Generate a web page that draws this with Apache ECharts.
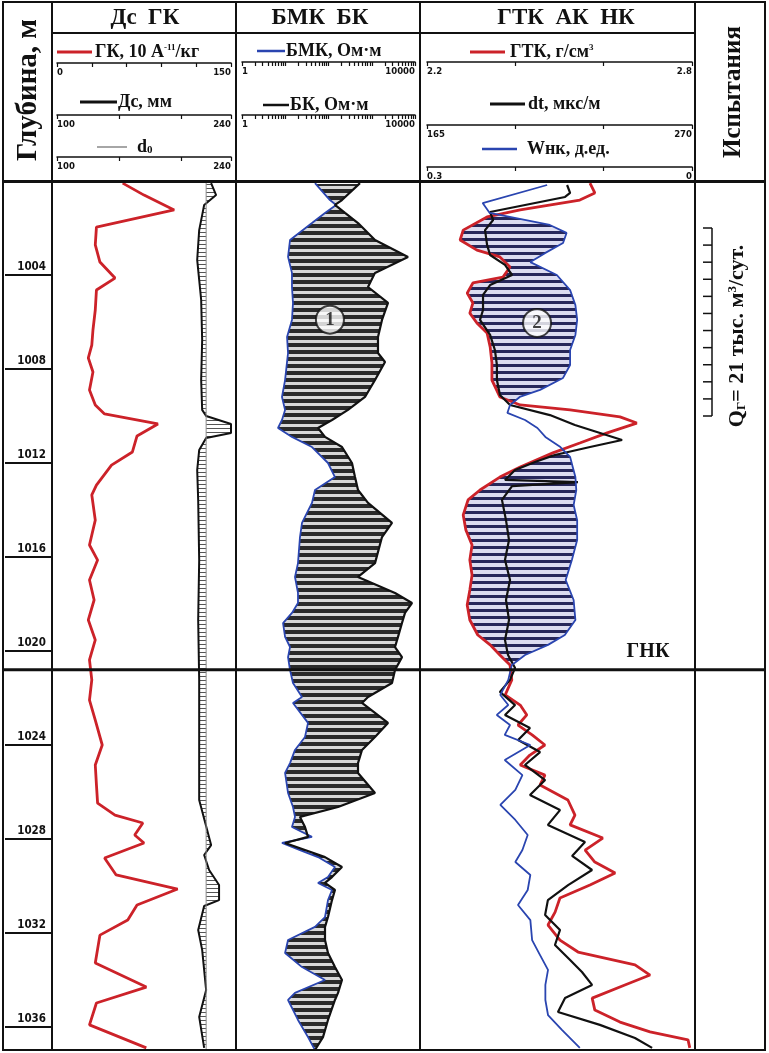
<!DOCTYPE html>
<html><head><meta charset="utf-8">
<script src="https://cdn.jsdelivr.net/npm/echarts@6/dist/echarts.min.js"></script>
<style>html,body{margin:0;padding:0;background:#fff}#c{width:769px;height:1053px}</style>
</head><body><div id="c"></div>
<script>
// ---------------- DATA ----------------
const depthTicks = [1004,1008,1012,1016,1020,1024,1028,1032,1036];
const gnkDepth = 1020.8;
const testTop = 1002.0, testBottom = 1010.0;

// Track 1: ГК (0-150), Дс (100-240), d0
const gkDepth = [1000.09,1000.6,1001.23,1001.96,1002.72,1003.45,1004.13,1004.64,1005.49,1006.34,1006.98,1007.53,1008.13,1008.89,1009.53,1009.91,1010.34,1010.85,1011.53,1012.09,1012.94,1013.36,1014.43,1015.49,1016.13,1016.98,1017.83,1018.68,1019.53,1020.38,1021.23,1022.09,1022.94,1024.0,1024.85,1025.70,1026.47,1026.98,1027.32,1027.83,1028.17,1028.81,1029.53,1030.13,1030.81,1031.45,1032.09,1033.28,1034.30,1034.98,1035.91,1036.89];
const gkValue = [56.6,75,101,34,33,37,50,34,33,31,30,27,31,28,33,41,87,69,65,47,34,30,33,28,35,28,32,27,33,28,30,28,33,39,33,34,35,50,74,67,75,41,51,104,69,61,37,33,77,34,28,77];

const dsDepth = [1000.09,1000.60,1001.02,1001.45,1002.09,1003.36,1004.21,1005.06,1006.77,1008.47,1009.74,1010.00,1010.34,1010.72,1010.94,1011.45,1012.30,1013.57,1016.13,1018.68,1021.23,1023.79,1026.34,1027.62,1028.26,1028.68,1029.32,1029.96,1030.60,1030.85,1031.87,1032.72,1034.43,1035.57,1036.89];
const dsValue = [224,228,218.4,216.8,214.4,212.8,214.4,216,216.8,216,216.8,220,240,240,220,214.4,212.8,213.6,214.4,213.6,214.4,214.4,214.4,220.8,224,218.4,222.4,230.4,230.4,218.4,213.6,216.8,220,214.4,218.4];

const d0Depth = [1000, 1037];
const d0Value = [220, 220];

// Track 2: БМК, БК (Ом·м, log 1-10000)
const resDepth = [1000.09,1000.81,1001.02,1001.36,1001.79,1002.51,1003.23,1003.91,1004.51,1005.19,1005.91,1006.64,1007.32,1007.70,1008.47,1009.19,1009.74,1010.17,1010.51,1010.89,1011.32,1012.00,1012.60,1013.15,1013.70,1014.55,1015.15,1016.26,1016.85,1017.53,1017.96,1018.38,1018.81,1019.40,1019.83,1020.26,1020.81,1021.36,1021.96,1022.21,1023.06,1023.66,1024.21,1024.77,1025.19,1026.04,1026.64,1027.06,1027.49,1027.91,1028.17,1028.47,1028.77,1029.19,1029.62,1029.87,1030.17,1030.60,1031.32,1031.74,1032.30,1032.85,1033.45,1034.00,1034.55,1034.85,1035.70,1036.43,1036.98];
const bmkValue = [48.7,108,150,83,41.5,12.9,11.6,14.3,14.3,15.1,14.3,11.0,11.6,11.0,9.9,8.4,9.9,8.4,6.8,14.3,41.5,97.3,141,48.7,41.5,24.4,21.9,19.7,16.8,19.7,19.7,14.3,8.9,9.9,12.9,11.6,12.9,15.1,24.4,15.1,33.6,28.6,16.8,12.9,9.9,11.6,15.1,16.8,14.3,41.5,8.4,21.9,57.2,141,97.3,57.2,120.5,97.3,83,48.7,11.6,9.9,24.4,83,16.8,11.6,19.7,33.6,48.7];
const bkValue = [535,205,141,241,481,1189,6886,1189,819,2375,1726,1394,1394,2024,1189,698,282,120.5,57.2,83,205,349,410,481,819,2938,1726,1189,481,3450,8525,5871,5003,4046,3450,5003,3450,2938,819,595,2375,1189,595,481,481,1189,166,21.9,28.6,33.6,9.9,28.6,83,205,120.5,83,141,120.5,97.3,83,83,97.3,141,205,166,141,97.3,74.6,48.7];

// Track 3: ГТК (2.2-2.8), dt (165-270), Wнк (0.3-0)
const gtkDepth = [1000.09,1000.51,1000.81,1001.23,1001.53,1002.09,1002.51,1002.94,1003.23,1003.66,1004.09,1004.34,1004.77,1005.19,1005.62,1006.04,1006.47,1007.06,1007.74,1008.47,1009.19,1009.53,1009.74,1010.04,1010.30,1010.72,1011.15,1011.57,1012.17,1012.60,
  1013.15,1013.57,1014.21,1014.85,1015.49,1016.13,1016.77,1017.40,1018.04,1018.68,1019.32,1019.74,1020.17,1020.60,1021.23,1021.87,1022.30,1022.72,1023.15,1023.57,1024.00,1024.43,1024.85,1025.28,1025.70,1026.34,1026.98,1027.40,1027.96,1028.47,1028.98,1029.45,1029.96,1030.51,1031.11,1031.66,1032.30,1032.81,1033.36,1033.79,1034.21,1034.77,1035.28,1035.79,1036.21,1036.55,1036.89];
const gtkValue = [2.569,2.580,2.546,2.411,2.336,2.282,2.275,2.313,2.365,2.388,2.372,2.304,2.291,2.304,2.297,2.313,2.336,2.343,2.347,2.347,2.365,2.411,2.524,2.637,2.675,2.608,2.546,2.485,2.411,2.365,
  2.320,2.293,2.282,2.288,2.302,2.297,2.302,2.297,2.291,2.297,2.315,2.343,2.365,2.388,2.392,2.377,2.411,2.426,2.406,2.438,2.467,2.433,2.411,2.467,2.456,2.519,2.535,2.524,2.598,2.558,2.580,2.626,2.569,2.501,2.490,2.474,2.501,2.542,2.671,2.705,2.648,2.574,2.580,2.637,2.705,2.791,2.795];

const dtDepth = [1000.17,1000.51,1000.68,1001.32,1001.66,1002.09,1002.72,1003.15,1003.57,1004.00,1004.43,1004.85,1005.49,1005.91,1006.55,1007.19,1007.83,1008.47,1009.11,1009.53,1009.96,1010.38,1011.02,1011.32,1011.66,1011.96,1012.30,1012.72,
  1012.81,1012.98,1013.57,1014.43,1015.28,1016.13,1016.98,1017.83,1018.68,1019.53,1020.17,1020.72,1021.23,1021.74,1022.30,1022.72,1023.28,1023.79,1024.30,1024.85,1025.49,1026.13,1026.77,1027.40,1028.13,1028.72,1029.32,1029.96,1030.60,1031.23,1031.87,1032.51,1033.15,1033.66,1034.21,1034.77,1035.36,1035.91,1036.47,1036.89];
const dtValue = [220.5,221.7,219.7,190.0,191.2,188.0,188.8,190.0,195.9,198.7,190.0,187.2,187.2,186.0,190.0,191.9,192.7,192.7,193.9,197.9,213.7,223.6,242.3,229.6,215.7,207.8,199.9,195.9,
  224.8,198.7,194.7,196.3,197.5,195.9,197.9,196.3,197.5,195.9,197.1,199.9,197.9,193.9,199.9,195.9,205.8,201.1,209.8,203.8,211.8,205.8,217.7,212.9,227.6,222.5,230.4,220.9,212.9,211.8,217.7,215.7,221.7,226.4,230.4,219.7,216.9,233.5,247.4,254.2];

const wnkDepth = [1000.17,1000.94,1001.36,1001.87,1002.21,1002.64,1003.06,1003.45,1004.00,1004.64,1005.28,1005.91,1006.55,1007.19,1007.83,1008.38,1008.89,1009.19,1009.53,1009.87,1010.17,1010.51,1010.89,1011.32,1011.74,1012.17,1012.60,
  1013.15,1013.79,1014.43,1015.28,1016.13,1016.98,1017.83,1018.68,1019.32,1019.74,1020.17,1020.60,1021.23,1021.87,1022.30,1022.72,1023.15,1023.57,1024.00,1024.64,1025.28,1025.91,1026.55,1027.19,1027.83,1028.47,1028.98,1029.53,1030.17,1030.81,1031.45,1032.30,1032.94,1033.57,1034.21,1034.85,1035.49,1036.13,1036.89];
const wnkValue = [0.164,0.237,0.229,0.161,0.142,0.146,0.166,0.183,0.153,0.138,0.132,0.130,0.132,0.138,0.138,0.146,0.172,0.195,0.206,0.209,0.189,0.175,0.166,0.149,0.138,0.135,0.132,
  0.131,0.134,0.130,0.130,0.136,0.143,0.134,0.132,0.144,0.163,0.189,0.204,0.208,0.217,0.208,0.221,0.206,0.212,0.183,0.212,0.192,0.200,0.217,0.200,0.186,0.192,0.200,0.183,0.186,0.197,0.183,0.181,0.172,0.163,0.166,0.166,0.163,0.147,0.127];

// circled labels [value, depth]
const mark1 = [108, 1005.9];
const mark2 = [208.6, 1006.04];

// ---------------- CHART ----------------
const SERIF = "'Liberation Serif','DejaVu Serif',serif";
const SANS = "'Liberation Sans Narrow','DejaVu Sans Condensed','Liberation Sans',sans-serif";
const GRID_TOP = 181, GRID_H = 869.5;
const DMIN = 1000, DMAX = 1037;
const RED = '#cc2229', BLUE = '#2a45b0', BLACK = '#111';

const chart = echarts.init(document.getElementById('c'));
function pairs(vals, depths){ return vals.map((v,i)=>[v, depths[i]]); }

function yAx(grid, extra){
  return Object.assign({type:'value', gridIndex:grid, inverse:true, min:DMIN, max:DMAX,
    axisLine:{show:false}, axisTick:{show:false}, axisLabel:{show:false}, splitLine:{show:false}}, extra||{});
}
function topAxis(grid, offset, type, min, max, ticks, labels, inverse){
  return {type, gridIndex:grid, position:'top', offset, min, max, inverse:!!inverse,
    axisLine:{show:true, onZero:false, lineStyle:{color:BLACK, width:1.5}},
    axisTick:{show:true, inside:true, length:4, customValues:ticks, lineStyle:{color:BLACK, width:1.2}},
    axisLabel:{show:true, inside:true, margin:5, customValues:labels, fontSize:9.5, fontWeight:'bold', fontFamily:SANS, color:BLACK,
      formatter: v => String(v), alignMinLabel: inverse?'right':'left', alignMaxLabel: inverse?'left':'right'},
    splitLine:{show:false}};
}
function lineSeries(xi, yi, vals, depths, color, width){
  return {type:'line', xAxisIndex:xi, yAxisIndex:yi, data:pairs(vals,depths), symbol:'none', showSymbol:false,
    lineStyle:{color, width}, z:5, silent:true, clip:true, animation:false};
}
const logTicks = [];
[1,10,100,1000].forEach(b=>{ for(let k=1;k<10;k++) logTicks.push(b*k); });
logTicks.push(10000);

const option = {
  animation:false,
  backgroundColor:'#fff',
  grid:[
    {left:57, top:GRID_TOP, width:174, height:GRID_H},
    {left:242, top:GRID_TOP, width:173, height:GRID_H},
    {left:427, top:GRID_TOP, width:265, height:GRID_H},
    {left:4, top:GRID_TOP, width:48, height:GRID_H}
  ],
  xAxis:[
    topAxis(0, 118, 'value', 0, 150, [0,30,60,90,120,150], [0,150]),
    topAxis(0, 66, 'value', 100, 240, [100,150,200,240], [100,240]),
    topAxis(0, 24, 'value', 100, 240, [100,150,200,240], [100,240]),
    topAxis(1, 119, 'log', 1, 10000, logTicks, [1,10000]),
    topAxis(1, 66, 'log', 1, 10000, logTicks, [1,10000]),
    topAxis(2, 119, 'value', 2.2, 2.8, [2.2,2.4,2.6,2.8], [2.2,2.8]),
    topAxis(2, 56, 'value', 165, 270, [165,200,235,270], [165,270]),
    topAxis(2, 14, 'value', 0, 0.3, [0,0.1,0.2,0.3], [0,0.3], true),
    {type:'value', gridIndex:3, show:false, min:0, max:1}
  ],
  yAxis:[
    yAx(0), yAx(1), yAx(2),
    yAx(3, {position:'right',
      axisLabel:{show:true, inside:true, margin:6, customValues:depthTicks, fontSize:11.5, fontWeight:'bold',
        fontFamily:SANS, color:BLACK, verticalAlign:'bottom', padding:[0,0,2,0], formatter: v => String(v)}})
  ],
  series:[
    lineSeries(0,0,gkValue,gkDepth,RED,2.8),      //0
    lineSeries(1,0,dsValue,dsDepth,BLACK,2),      //1
    lineSeries(2,0,d0Value,d0Depth,'#8a8a8a',1),  //2
    lineSeries(3,1,bmkValue,resDepth,BLUE,1.8),   //3
    lineSeries(4,1,bkValue,resDepth,BLACK,2.2),   //4
    lineSeries(5,2,gtkValue,gtkDepth,RED,2.8),    //5
    lineSeries(6,2,dtValue,dtDepth,BLACK,2.2),    //6
    lineSeries(7,2,wnkValue,wnkDepth,BLUE,1.8),   //7
    {type:'scatter', xAxisIndex:3, yAxisIndex:1, data:[mark1], symbol:'circle', symbolSize:28, z:6, silent:true,
      itemStyle:{color:'#fff', borderColor:BLACK, borderWidth:2},
      label:{show:true, position:'inside', formatter:'1', fontSize:19, fontWeight:'bold', fontFamily:SERIF, color:BLACK}},
    {type:'scatter', xAxisIndex:6, yAxisIndex:2, data:[mark2], symbol:'circle', symbolSize:28, z:6, silent:true,
      itemStyle:{color:'#fff', borderColor:BLACK, borderWidth:2},
      label:{show:true, position:'inside', formatter:'2', fontSize:19, fontWeight:'bold', fontFamily:SERIF, color:BLACK}}
  ]
};
chart.setOption(option);

// ---------------- second pass: hatching + frame ----------------
function pix(si, vals, depths){ return vals.map((v,i)=>chart.convertToPixel({seriesIndex:si},[v, depths[i]])); }
function xAt(poly, y){
  for (let i=0;i<poly.length-1;i++){
    const a=poly[i], b=poly[i+1];
    const y0=Math.min(a[1],b[1]), y1=Math.max(a[1],b[1]);
    if (y>=y0 && y<=y1){ if (b[1]===a[1]) return a[0]; return a[0]+(b[0]-a[0])*(y-a[1])/(b[1]-a[1]); }
  }
  return null;
}
const els = [];
function hatch(pL, pR, mode, period, darkRows, dark, light){
  const yTop = Math.ceil(Math.max(pL[0][1], pR[0][1], GRID_TOP));
  const yBot = Math.floor(Math.min(pL[pL.length-1][1], pR[pR.length-1][1], GRID_TOP+GRID_H));
  for (let y=yTop; y<yBot; y++){
    const xl = xAt(pL, y+0.5), xr = xAt(pR, y+0.5);
    if (xl==null || xr==null) continue;
    let a=xl, b=xr;
    if (mode==='abs'){ a=Math.min(xl,xr); b=Math.max(xl,xr); }
    else if (xr<=xl) continue;
    if (b-a < 0.5) continue;
    const k = ((y % period)+period)%period;
    const fill = k < darkRows ? dark : light;
    if (!fill) continue;
    els.push({type:'rect', silent:true, z:1, shape:{x:a, y:y, width:b-a, height:1}, style:{fill}});
  }
}
hatch(pix(1,dsValue,dsDepth), pix(2,d0Value,d0Depth), 'abs', 4, 1, '#555', null);
hatch(pix(3,bmkValue,resDepth), pix(4,bkValue,resDepth), 'abs', 7, 4, '#2a2a2a', '#d8d8d8');
hatch(pix(5,gtkValue,gtkDepth), pix(7,wnkValue,wnkDepth), 'pos', 7, 3, '#27275a', '#dcdcf0');

function L(x1,y1,x2,y2,w,c){ els.push({type:'line', silent:true, z:10, shape:{x1,y1,x2,y2}, style:{stroke:c||BLACK, lineWidth:w||2}}); }
function T(x,y,text,size,opts){
  els.push(Object.assign({type:'text', silent:true, z:11, x, y,
    style:Object.assign({text, fontSize:size, fontWeight:'bold', fontFamily:SERIF, fill:BLACK, align:'center', verticalAlign:'middle'}, (opts&&opts.style)||{})},
    (opts&&opts.el)||{}));
}
// frame
els.push({type:'rect', silent:true, z:10, shape:{x:3,y:2,width:762,height:1048}, style:{fill:null, stroke:BLACK, lineWidth:2}});
[52,236,420,695].forEach(x=>L(x,2,x,1050,2));
L(52,33,695,33,2);
L(3,181.5,765,181.5,3);
// depth tick lines in depth column
depthTicks.forEach(d=>{ const y = chart.convertToPixel({yAxisIndex:3}, d); L(5,y,51,y,2); });
// GNK line
const gy = chart.convertToPixel({yAxisIndex:0}, gnkDepth);
L(3,gy,765,gy,3);
T(648, gy-18, 'ГНК', 20);
// titles
T(145,18,'Дс  ГК',23);
T(320,18,'БМК  БК',23);
T(566,18,'ГТК  АК  НК',23);
T(29,90,'Глубина, м',29,{el:{rotation:Math.PI/2}});
T(734,92,'Испытания',25,{el:{rotation:Math.PI/2}});
// legends
function legLine(x1,x2,y,c,w){ L(x1,y,x2,y,w,c); }
legLine(57,92,52,RED,3);
T(95,52,'{a|ГК, 10 А}{s|-11}{a|/кг}',18,{style:{align:'left', rich:{a:{fontSize:18,fontWeight:'bold',fontFamily:SERIF}, s:{fontSize:9,fontWeight:'bold',fontFamily:SERIF,verticalAlign:'top'}}}});
legLine(80,117,102,BLACK,3);
T(118,102,'Дс, мм',18,{style:{align:'left'}});
legLine(97,127,147,'#888',1.5);
T(137,147,'{a|d}{s|0}',18,{style:{align:'left', rich:{a:{fontSize:18,fontWeight:'bold',fontFamily:SERIF}, s:{fontSize:11,fontWeight:'bold',fontFamily:SERIF,verticalAlign:'bottom'}}}});
legLine(257,285,51,BLUE,2.5);
T(286,51,'БМК, Ом·м',18,{style:{align:'left'}});
legLine(263,289,105,BLACK,2.5);
T(290,105,'БК, Ом·м',18,{style:{align:'left'}});
legLine(470,505,52,RED,3);
T(510,52,'{a|ГТК, г/см}{s|3}',18,{style:{align:'left', rich:{a:{fontSize:18,fontWeight:'bold',fontFamily:SERIF}, s:{fontSize:9,fontWeight:'bold',fontFamily:SERIF,verticalAlign:'top'}}}});
legLine(490,525,104,BLACK,3);
T(528,104,'dt, мкс/м',18,{style:{align:'left'}});
legLine(482,517,149,BLUE,2.5);
T(527,149,'Wнк, д.ед.',18,{style:{align:'left'}});
// test interval scale
const ty1 = chart.convertToPixel({yAxisIndex:0}, testTop), ty2 = chart.convertToPixel({yAxisIndex:0}, testBottom);
L(712,ty1,712,ty2,1.5);
const nT = 11;
for (let i=0;i<=nT;i++){ const y = ty1 + (ty2-ty1)*i/nT; L(703,y,712,y,1.5); }
T(737,336,'{a|Q}{s|Г}{a|= 21 тыс. м}{p|3}{a|/сут.}',22,{el:{rotation:Math.PI/2},
  style:{rich:{a:{fontSize:22,fontWeight:'bold',fontFamily:SERIF}, s:{fontSize:13,fontWeight:'bold',fontFamily:SERIF,verticalAlign:'bottom'}, p:{fontSize:13,fontWeight:'bold',fontFamily:SERIF,verticalAlign:'top'}}}});

chart.setOption({graphic:{elements:els}});
</script></body></html>
